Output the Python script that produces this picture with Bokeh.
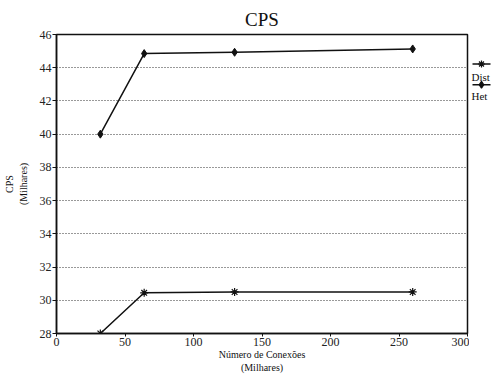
from bokeh.plotting import figure
from bokeh.layouts import row
from bokeh.models import Range1d, FixedTicker
from bokeh.core.properties import value
from bokeh.embed import file_html
from bokeh.resources import INLINE

conexoes = [32, 64, 130, 260]
cps_dist = [28.0, 30.45, 30.5, 30.5]
cps_het = [40.0, 44.85, 44.93, 45.13]
x_ticks = [0, 50, 100, 150, 200, 250, 300]
y_ticks = [28, 30, 32, 34, 36, 38, 40, 42, 44, 46]
legend_labels = ["Dist", "Het"]

FONT = "Liberation Serif"
INK = "#111111"
H = 375
MAIN_W, LEG_W = 469, 22

p = figure(width=MAIN_W, height=H, output_backend="svg", toolbar_location=None,
           x_range=Range1d(0, 300), y_range=Range1d(28, 46),
           min_border_left=56, min_border_right=2, min_border_top=34, min_border_bottom=35)

p.title.text = "CPS"
p.title.align = "center"
p.title.text_font = FONT
p.title.text_font_size = "19px"
p.title.text_font_style = "normal"
p.title.text_color = INK

p.outline_line_color = INK
p.outline_line_width = 1.5

p.xaxis.ticker = FixedTicker(ticks=x_ticks)
p.yaxis.ticker = FixedTicker(ticks=y_ticks)
for ax in (p.xaxis, p.yaxis):
    ax.major_label_text_font = FONT
    ax.major_label_text_font_size = "12px"
    ax.major_label_text_color = "#222222"
    ax.axis_line_color = INK
    ax.axis_line_width = 1.5
    ax.major_tick_line_color = INK
    ax.minor_tick_line_color = None
    ax.major_tick_in = 0
    ax.major_label_standoff = 1
    ax.axis_label_text_font = FONT
    ax.axis_label_text_font_size = "10px"
    ax.axis_label_text_font_style = "normal"
    ax.axis_label_text_color = INK
p.xaxis.major_tick_out = 3
p.yaxis.major_tick_out = 4

p.yaxis.axis_label = "CPS\n(Milhares)"
p.yaxis.axis_label_standoff = 8
p.xaxis.axis_label = "Número de Conexões\n(Milhares)"
p.xaxis.axis_label_standoff = 0

p.xgrid.grid_line_color = None
p.ygrid.grid_line_color = "#333333"
p.ygrid.grid_line_dash = "1 2"
p.ygrid.grid_line_width = 1.2

p.line(conexoes, cps_het, line_color=INK, line_width=1.5)
p.scatter(conexoes, cps_het, marker="diamond", size=8, color=INK)
p.line(conexoes, cps_dist, line_color=INK, line_width=1.5)
p.scatter(conexoes, cps_dist, marker="asterisk", size=8, line_color=INK, line_width=1.2)

# legend strip to the right of the chart (pixel-like coordinates, y from top)
lg = figure(width=LEG_W, height=H, output_backend="svg", toolbar_location=None,
            x_range=Range1d(0, LEG_W), y_range=Range1d(H, 0),
            x_axis_type=None, y_axis_type=None,
            min_border_left=0, min_border_right=0, min_border_top=0, min_border_bottom=0)
lg.outline_line_color = None
lg.xgrid.grid_line_color = None
lg.ygrid.grid_line_color = None

sample_y = [37, 63]
text_y = [53, 77]
markers = ["asterisk", "diamond"]
lg.segment(x0=[3, 3], y0=sample_y, x1=[21, 21], y1=sample_y, line_color=INK, line_width=1.3)
lg.scatter(x=[12, 12], y=sample_y, marker=markers, size=7, line_color=INK,
           fill_color=INK, line_width=1.2)
lg.text(x=[2, 2], y=text_y, text=legend_labels, text_font=value(FONT),
        text_font_size="11px", text_color=INK, text_baseline="alphabetic")

layout = row(p, lg, spacing=0)
open("out.html", "w").write(file_html(layout, INLINE))
